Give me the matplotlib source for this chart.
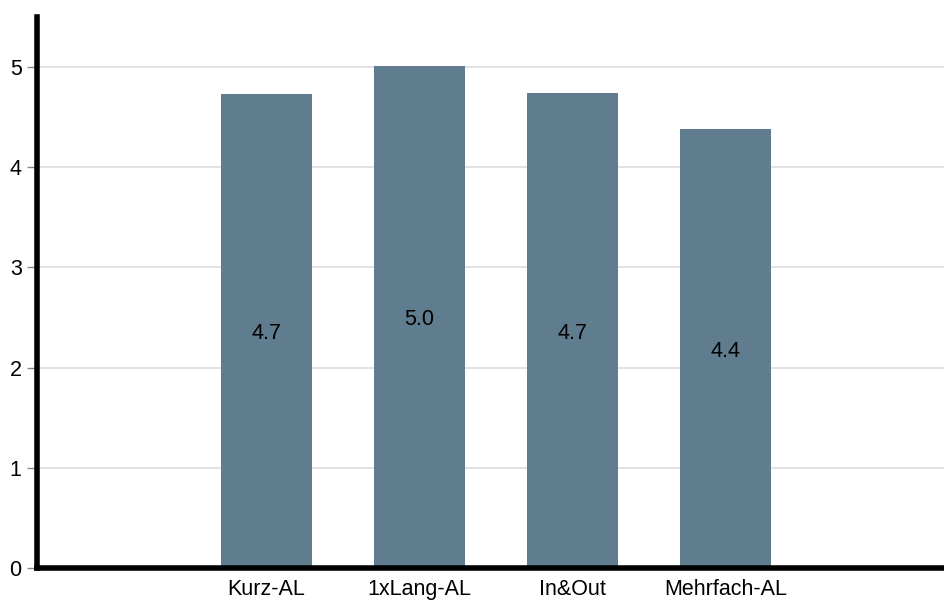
import matplotlib
matplotlib.use("Agg")
import matplotlib.pyplot as plt

categories = ["", "Kurz-AL", "1xLang-AL", "In&Out", "Mehrfach-AL", ""]
values = [None, 4.73, 5.01, 4.74, 4.38, None]
labels = ["", "4.7", "5.0", "4.7", "4.4", ""]
yticks = [0, 1, 2, 3, 4, 5]

plt.rcParams['font.family'] = ['Liberation Sans', 'DejaVu Sans']

fig = plt.figure(figsize=(9.44, 6.0), dpi=100)
ax = fig.add_axes([37/944, 32/600, 1 - 37/944, (568-17)/600])

color = "#5f7d8e"
xs = [i for i, v in enumerate(values) if v is not None]
vs = [v for v in values if v is not None]
ax.bar(xs, vs, width=0.6, color=color, zorder=2)
for x, v, lab in zip(range(len(values)), values, labels):
    if v is not None:
        ax.text(x, v / 2, lab, ha="center", va="center_baseline", fontsize=15.5, color="black", zorder=3)

ax.set_xlim(-0.5, (944 - 37) / 153 - 0.5)
ax.set_ylim(0, 5.5)
ax.set_yticks(yticks)
ax.set_yticklabels([str(t) for t in yticks], fontsize=15.5)
ax.set_xticks(xs)
ax.set_xticklabels([categories[i] for i in xs], fontsize=15.5)
ax.tick_params(axis="x", length=0, pad=8)
ax.tick_params(axis="y", length=7, width=1, color="#888888", pad=4)

ax.grid(axis="y", color="#dddddd", linewidth=1.2, zorder=0)
ax.set_axisbelow(True)

for s in ["top", "right"]:
    ax.spines[s].set_visible(False)
for s in ["left", "bottom"]:
    ax.spines[s].set_linewidth(4)
    ax.spines[s].set_color("black")

fig.savefig("out.png", dpi=100)
